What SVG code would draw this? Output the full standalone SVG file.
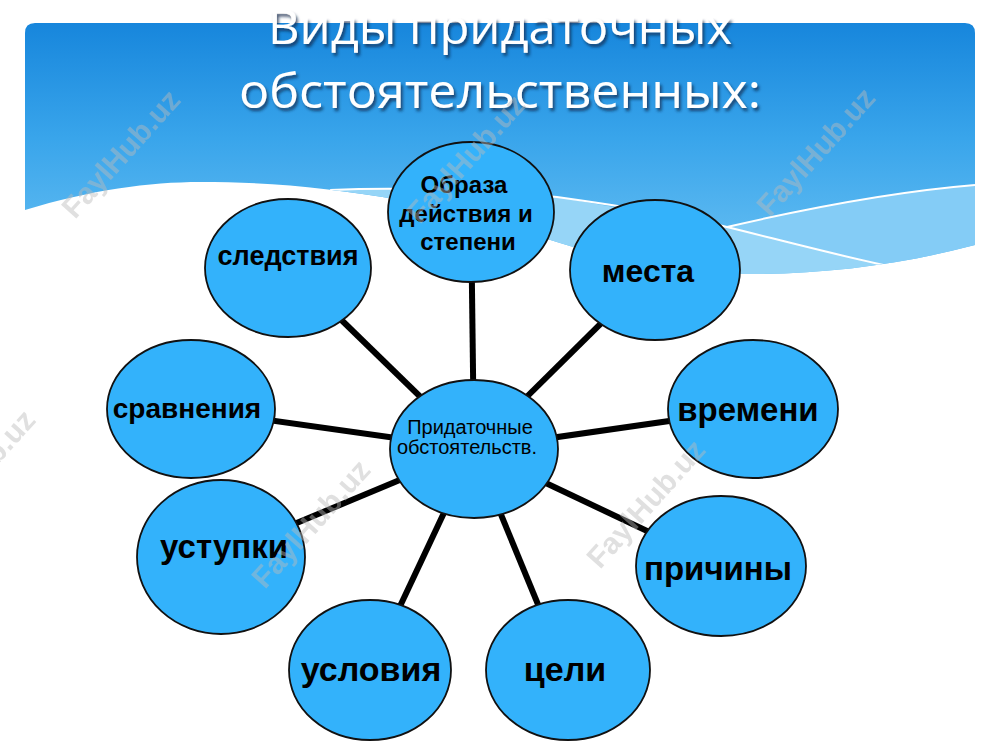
<svg xmlns="http://www.w3.org/2000/svg" width="1000" height="750" viewBox="0 0 1000 750">
<defs>
<linearGradient id="hdr" x1="0" y1="23" x2="0" y2="280" gradientUnits="userSpaceOnUse">
<stop offset="0" stop-color="#1786dc"/>
<stop offset="0.45" stop-color="#39a5eb"/>
<stop offset="1" stop-color="#6cc2f3"/>
</linearGradient>
<filter id="sh" x="-10%" y="-30%" width="120%" height="160%">
<feDropShadow dx="2" dy="3" stdDeviation="1.5" flood-color="#0a2a48" flood-opacity="0.75"/>
</filter>
<clipPath id="hc"><path d="M35 23 H965 Q975 23 975 33 V245 C900 265 820 275 740 274 C680 273 620 262 560 243 C520 230 470 212 400 200 C330 188 270 182 200 182 C150 182 90 190 25 210 V33 Q25 23 35 23 Z"/></clipPath>
</defs>
<style>
.node{fill:#33b2fb;stroke:#111;stroke-width:1.8}
.lbl{font-family:"Liberation Sans",Arial,sans-serif;font-weight:bold;fill:#000;text-anchor:middle}
.edge{stroke:#000;stroke-width:6;stroke-linecap:butt}
.title{font-family:"Open Sans","Liberation Sans",sans-serif;fill:#fff;font-size:47px;text-anchor:middle}
.wm{font-family:"Liberation Sans",Arial,sans-serif;font-weight:bold;font-size:30px;fill:#bbb;opacity:0.45}
.wl{fill:none;stroke:#fff;stroke-width:2}
</style>
<rect width="1000" height="750" fill="#fff"/>
<g id="header" clip-path="url(#hc)">
<rect x="25" y="23" width="950" height="270" fill="url(#hdr)"/>
<path d="M330 190 C400 187 480 190 557 197 L727 227 L893 267 L975 255 L975 300 L330 300 Z" fill="#96d5f7"/>
<path d="M727 227 C800 210 890 192 975 185 L975 255 L893 267 Z" fill="#84ccf6"/>
<path class="wl" d="M330 190 C400 187 480 190 557 197 C600 203 680 215 727 227 C780 240 840 256 893 267"/>
<path class="wl" d="M727 227 C800 210 890 192 975 185"/>
</g>
<g id="title" filter="url(#sh)">
<text class="title" x="500" y="44" textLength="464" lengthAdjust="spacingAndGlyphs">Виды придаточных</text>
<text class="title" x="500" y="108" textLength="522" lengthAdjust="spacingAndGlyphs">обстоятельственных:</text>
</g>
<g id="connectors">
<line class="edge" x1="474" y1="449" x2="471" y2="212"/>
<line class="edge" x1="474" y1="449" x2="655" y2="270"/>
<line class="edge" x1="474" y1="449" x2="753" y2="409"/>
<line class="edge" x1="474" y1="449" x2="721" y2="566"/>
<line class="edge" x1="474" y1="449" x2="565" y2="670"/>
<line class="edge" x1="474" y1="449" x2="370" y2="670"/>
<line class="edge" x1="474" y1="449" x2="220" y2="555"/>
<line class="edge" x1="474" y1="449" x2="190" y2="409"/>
<line class="edge" x1="474" y1="449" x2="288" y2="268"/>
</g>
<g id="center">
<ellipse class="node" cx="474" cy="449" rx="84" ry="69"/>
<text class="lbl" style="font-weight:normal;font-size:20px" x="470" y="434">Придаточные</text>
<text class="lbl" style="font-weight:normal;font-size:20px" x="467" y="454">обстоятельств.</text>
</g>
<g id="obraz">
<ellipse class="node" cx="471" cy="212" rx="83" ry="70"/>
<text class="lbl" style="font-size:24px" x="464" y="193">Образа</text>
<text class="lbl" style="font-size:24px" x="466" y="222">действия и</text>
<text class="lbl" style="font-size:24px" x="468" y="250">степени</text>
</g>
<g id="mesta">
<ellipse class="node" cx="655" cy="270" rx="85" ry="70"/>
<text class="lbl" style="font-size:32px" x="648" y="282">места</text>
</g>
<g id="vremeni">
<ellipse class="node" cx="753" cy="409" rx="85" ry="69"/>
<text class="lbl" style="font-size:33px" x="748" y="421">времени</text>
</g>
<g id="prichiny">
<ellipse class="node" cx="721" cy="566" rx="85" ry="70"/>
<text class="lbl" style="font-size:33px" x="718" y="580">причины</text>
</g>
<g id="celi">
<ellipse class="node" cx="568" cy="670" rx="82" ry="70"/>
<text class="lbl" style="font-size:34px" x="565" y="681">цели</text>
</g>
<g id="usloviya">
<ellipse class="node" cx="370" cy="670" rx="81" ry="70"/>
<text class="lbl" style="font-size:34px" x="371" y="681">условия</text>
</g>
<g id="ustupki">
<ellipse class="node" cx="221" cy="557" rx="84" ry="77"/>
<text class="lbl" style="font-size:33px" x="224" y="558">уступки</text>
</g>
<g id="sravneniya">
<ellipse class="node" cx="191" cy="409" rx="84" ry="69"/>
<text class="lbl" style="font-size:28px" x="187" y="418">сравнения</text>
</g>
<g id="sledstviya">
<ellipse class="node" cx="288" cy="268" rx="83" ry="69"/>
<text class="lbl" style="font-size:27px" x="288" y="265">следствия</text>
</g>
<g id="watermarks">
<text class="wm" transform="translate(75 220) rotate(-48)">FaylHub.uz</text>
<text class="wm" transform="translate(420 225) rotate(-48)">FaylHub.uz</text>
<text class="wm" transform="translate(770 218) rotate(-48)">FaylHub.uz</text>
<text class="wm" transform="translate(-70 540) rotate(-48)">FaylHub.uz</text>
<text class="wm" transform="translate(265 590) rotate(-48)">FaylHub.uz</text>
<text class="wm" transform="translate(600 570) rotate(-48)">FaylHub.uz</text>
</g>
</svg>
